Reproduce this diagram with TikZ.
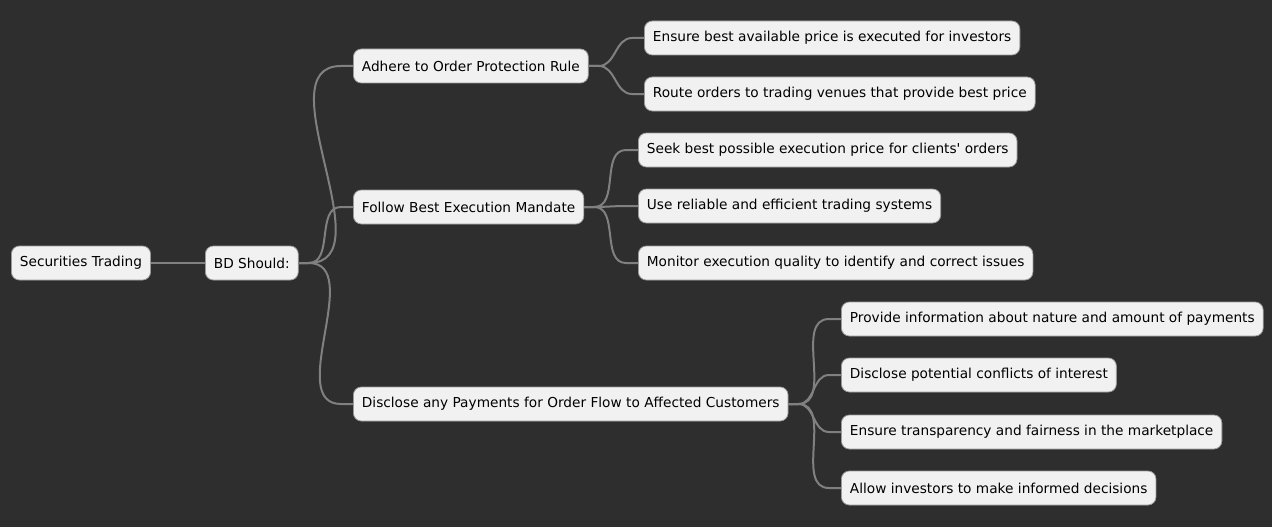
\documentclass[tikz,border=0pt]{standalone}
\usepackage{fontspec}
\setmainfont{DejaVu Sans}[Ligatures=TeXOff]
\definecolor{bg}{HTML}{2E2E2E}
\definecolor{nodefill}{HTML}{F1F1F1}
\definecolor{nodeline}{HTML}{9A9A9A}
\definecolor{linkc}{HTML}{808080}
\tikzset{
  box/.style={draw=nodeline, line width=0.8pt, fill=nodefill, rounded corners=8pt,
    anchor=west, minimum height=34pt, inner xsep=8.5pt, inner ysep=0pt,
    font=\fontsize{13.7}{16}\selectfont, text=black},
  conn/.style={draw=linkc, line width=2pt},
}
\newcommand{\link}[2]{\draw[conn] (#1.east) -- ++(10pt,0) to[out=0,in=180] ([xshift=-12pt]#2.west) -- (#2.west);}
\begin{document}
\begin{tikzpicture}[x=1pt,y=-1pt]
\fill[bg] (0,0) rectangle (1272,527);
\useasboundingbox (0,0) rectangle (1272,527);
\node[box] (root) at (11,263) {Securities Trading};
\node[box] (bd) at (205,263) {BD Should:};
\node[box] (a) at (353,66) {Adhere to Order Protection Rule};
\node[box] (f) at (353,207) {Follow Best Execution Mandate};
\node[box] (d) at (353,404) {Disclose any Payments for Order Flow to Affected Customers};
\node[box] (a1) at (644,38) {Ensure best available price is executed for investors};
\node[box] (a2) at (644,94) {Route orders to trading venues that provide best price};
\node[box] (f1) at (638,150) {Seek best possible execution price for clients' orders};
\node[box] (f2) at (638,206) {Use reliable and efficient trading systems};
\node[box] (f3) at (638,263) {Monitor execution quality to identify and correct issues};
\node[box] (d1) at (841,319) {Provide information about nature and amount of payments};
\node[box] (d2) at (841,375) {Disclose potential conflicts of interest};
\node[box] (d3) at (841,432) {Ensure transparency and fairness in the marketplace};
\node[box] (d4) at (841,488) {Allow investors to make informed decisions};
\draw[conn] (root.east) -- (bd.west);
\link{bd}{a}
\link{bd}{f}
\link{bd}{d}
\link{a}{a1}
\link{a}{a2}
\link{f}{f1}
\link{f}{f2}
\link{f}{f3}
\link{d}{d1}
\link{d}{d2}
\link{d}{d3}
\link{d}{d4}
\end{tikzpicture}
\end{document}
